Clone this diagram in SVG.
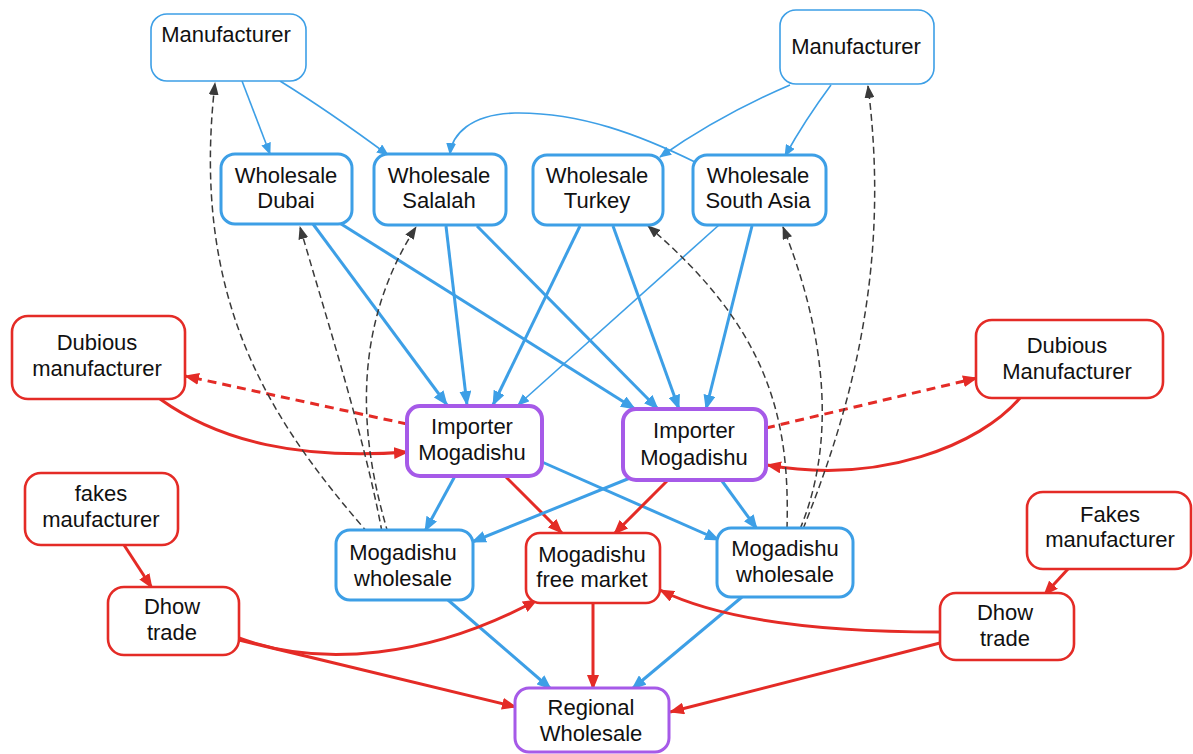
<svg xmlns="http://www.w3.org/2000/svg" width="1193" height="754" viewBox="0 0 1193 754">
<defs>
<style>
.t{font-family:"Liberation Sans",Arial,Helvetica,sans-serif;font-size:22px;fill:#111;text-anchor:middle}
.nb{fill:#fff;stroke:#3d9fe6}
.mf{stroke-width:1.6}
.ws{stroke-width:3}
.im{fill:#fff;stroke:#a65ae8;stroke-width:4}
.rg{fill:#fff;stroke:#a65ae8;stroke-width:3}
.rd{fill:#fff;stroke:#e42b26;stroke-width:2.6}
.bt{fill:none;stroke:#3d9fe6;stroke-width:1.6}
.bk{fill:none;stroke:#3d9fe6;stroke-width:3}
.rs{fill:none;stroke:#e42b26;stroke-width:3}
.rdash{fill:none;stroke:#e42b26;stroke-width:3;stroke-dasharray:9 6}
.gd{fill:none;stroke:#3a3a3a;stroke-width:1.5;stroke-dasharray:7 4}
</style>
<marker id="ab" markerWidth="15" markerHeight="12" refX="14" refY="6" orient="auto" markerUnits="userSpaceOnUse"><path d="M0,0 L15,6 L0,12 z" fill="#3d9fe6"/></marker>
<marker id="abs" markerWidth="12" markerHeight="10" refX="11" refY="5" orient="auto" markerUnits="userSpaceOnUse"><path d="M0,0 L12,5 L0,10 z" fill="#3d9fe6"/></marker>
<marker id="ar" markerWidth="15" markerHeight="12" refX="14" refY="6" orient="auto" markerUnits="userSpaceOnUse"><path d="M0,0 L15,6 L0,12 z" fill="#e42b26"/></marker>
<marker id="ag" markerWidth="13" markerHeight="10" refX="12" refY="5" orient="auto" markerUnits="userSpaceOnUse"><path d="M0,0 L13,5 L0,10 z" fill="#3a3a3a"/></marker>
</defs>
<rect width="1193" height="754" fill="#fff"/>
<g id="connectors">
<!-- manufacturers to wholesalers -->
<path class="bt" d="M242,81 L270,154" marker-end="url(#abs)"/>
<path class="bt" d="M280,81 Q330,112 388,155" marker-end="url(#abs)"/>
<path class="bt" d="M697,163 C640,135 580,112 515,113 C470,114 452,135 450,154" marker-end="url(#abs)"/>
<path class="bt" d="M790,85 Q720,115 660,157" marker-end="url(#abs)"/>
<path class="bt" d="M831,85 Q805,120 785,156" marker-end="url(#abs)"/>
<!-- wholesalers to importer left -->
<path class="bk" d="M313,224 L447,405" marker-end="url(#ab)"/>
<path class="bk" d="M446,226 L467,405" marker-end="url(#ab)"/>
<path class="bk" d="M580,226 L493,405" marker-end="url(#ab)"/>
<path class="bt" d="M719,225 L518,405" marker-end="url(#abs)"/>
<!-- wholesalers to importer right -->
<path class="bk" d="M338,222 L635,409" marker-end="url(#ab)"/>
<path class="bk" d="M477,226 L658,409" marker-end="url(#ab)"/>
<path class="bk" d="M613,226 L679,409" marker-end="url(#ab)"/>
<path class="bk" d="M752,226 L706,409" marker-end="url(#ab)"/>
<!-- importers down -->
<path class="bk" d="M455,476 L425,531" marker-end="url(#ab)"/>
<path class="rs" d="M505,476 L562,533" marker-end="url(#ar)"/>
<path class="bk" d="M542,462 L719,540" marker-end="url(#ab)"/>
<path class="bk" d="M630,478 L472,542" marker-end="url(#ab)"/>
<path class="rs" d="M667,481 L614,534" marker-end="url(#ar)"/>
<path class="bk" d="M722,481 L757,529" marker-end="url(#ab)"/>
<!-- to regional -->
<path class="bk" d="M448,600 L551,689" marker-end="url(#ab)"/>
<path class="rs" d="M593,603 L593,689" marker-end="url(#ar)"/>
<path class="bk" d="M742,597 L632,689" marker-end="url(#ab)"/>
<!-- dhow trade -->
<path class="rs" d="M239,640 L516,707" marker-end="url(#ar)"/>
<path class="rs" d="M239,638 C320,668 430,658 537,600" marker-end="url(#ar)"/>
<path class="rs" d="M940,632 C820,632 720,620 660,590" marker-end="url(#ar)"/>
<path class="rs" d="M940,643 L670,712" marker-end="url(#ar)"/>
<path class="rs" d="M124,545 L152,588" marker-end="url(#ar)"/>
<path class="rs" d="M1068,569 L1044,595" marker-end="url(#ar)"/>
<!-- dubious -->
<path class="rs" d="M160,399 C220,442 300,460 408,452" marker-end="url(#ar)"/>
<path class="rdash" d="M407,424 L185,376" marker-end="url(#ar)"/>
<path class="rdash" d="M766,428 L977,378" marker-end="url(#ar)"/>
<path class="rs" d="M1020,398 C980,445 880,485 767,465" marker-end="url(#ar)"/>
<!-- dashed feedback -->
<path class="gd" d="M368,533 C270,420 190,300 215,83" marker-end="url(#ag)"/>
<path class="gd" d="M382,532 C365,440 330,330 300,227" marker-end="url(#ag)"/>
<path class="gd" d="M388,533 C360,440 350,330 416,227" marker-end="url(#ag)"/>
<path class="gd" d="M787,529 C790,420 770,330 648,226" marker-end="url(#ag)"/>
<path class="gd" d="M800,529 C825,470 840,370 783,227" marker-end="url(#ag)"/>
<path class="gd" d="M803,529 C855,400 890,260 868,86" marker-end="url(#ag)"/>
</g>
<g id="mfrL"><rect class="nb mf" x="151" y="14" width="155" height="67" rx="16"/><text class="t" x="226" y="42">Manufacturer</text></g>
<g id="mfrR"><rect class="nb mf" x="780" y="10" width="154" height="74" rx="16"/><text class="t" x="856" y="54">Manufacturer</text></g>
<g id="wsDubai"><rect class="nb ws" x="221" y="154" width="131" height="70" rx="14"/><text class="t" x="286" y="183">Wholesale</text><text class="t" x="286" y="208">Dubai</text></g>
<g id="wsSalalah"><rect class="nb ws" x="374" y="154" width="132" height="71" rx="14"/><text class="t" x="439" y="183">Wholesale</text><text class="t" x="439" y="208">Salalah</text></g>
<g id="wsTurkey"><rect class="nb ws" x="533" y="155" width="130" height="70" rx="14"/><text class="t" x="597" y="183">Wholesale</text><text class="t" x="597" y="208">Turkey</text></g>
<g id="wsSouthAsia"><rect class="nb ws" x="693" y="155" width="133" height="70" rx="14"/><text class="t" x="758" y="183">Wholesale</text><text class="t" x="758" y="208">South Asia</text></g>
<g id="dubiousL"><rect class="rd" x="12" y="316" width="173" height="83" rx="16"/><text class="t" x="97" y="350">Dubious</text><text class="t" x="97" y="376">manufacturer</text></g>
<g id="dubiousR"><rect class="rd" x="976" y="320" width="187" height="78" rx="16"/><text class="t" x="1067" y="353">Dubious</text><text class="t" x="1067" y="379">Manufacturer</text></g>
<g id="importerL"><rect class="im" x="407" y="406" width="135" height="70" rx="13"/><text class="t" x="472" y="434">Importer</text><text class="t" x="472" y="460">Mogadishu</text></g>
<g id="importerR"><rect class="im" x="623" y="409" width="143" height="71" rx="13"/><text class="t" x="694" y="438">Importer</text><text class="t" x="694" y="465">Mogadishu</text></g>
<g id="fakesL"><rect class="rd" x="25" y="473" width="153" height="72" rx="16"/><text class="t" x="101" y="501">fakes</text><text class="t" x="101" y="527">maufacturer</text></g>
<g id="dhowL"><rect class="rd" x="108" y="587" width="131" height="68" rx="16"/><text class="t" x="172" y="614">Dhow</text><text class="t" x="172" y="640">trade</text></g>
<g id="mogWholesaleL"><rect class="nb ws" x="336" y="530" width="137" height="70" rx="14"/><text class="t" x="403" y="560">Mogadishu</text><text class="t" x="403" y="586">wholesale</text></g>
<g id="freeMarket"><rect class="rd" x="526" y="533" width="134" height="70" rx="14"/><text class="t" x="592" y="562">Mogadishu</text><text class="t" x="592" y="587">free market</text></g>
<g id="mogWholesaleR"><rect class="nb ws" x="717" y="528" width="136" height="69" rx="14"/><text class="t" x="785" y="556">Mogadishu</text><text class="t" x="785" y="582">wholesale</text></g>
<g id="fakesR"><rect class="rd" x="1027" y="492" width="164" height="77" rx="16"/><text class="t" x="1110" y="522">Fakes</text><text class="t" x="1110" y="547">manufacturer</text></g>
<g id="dhowR"><rect class="rd" x="940" y="593" width="134" height="67" rx="16"/><text class="t" x="1005" y="620">Dhow</text><text class="t" x="1005" y="646">trade</text></g>
<g id="regional"><rect class="rg" x="515" y="688" width="154" height="64" rx="14"/><text class="t" x="591" y="715">Regional</text><text class="t" x="591" y="741">Wholesale</text></g>
</svg>
